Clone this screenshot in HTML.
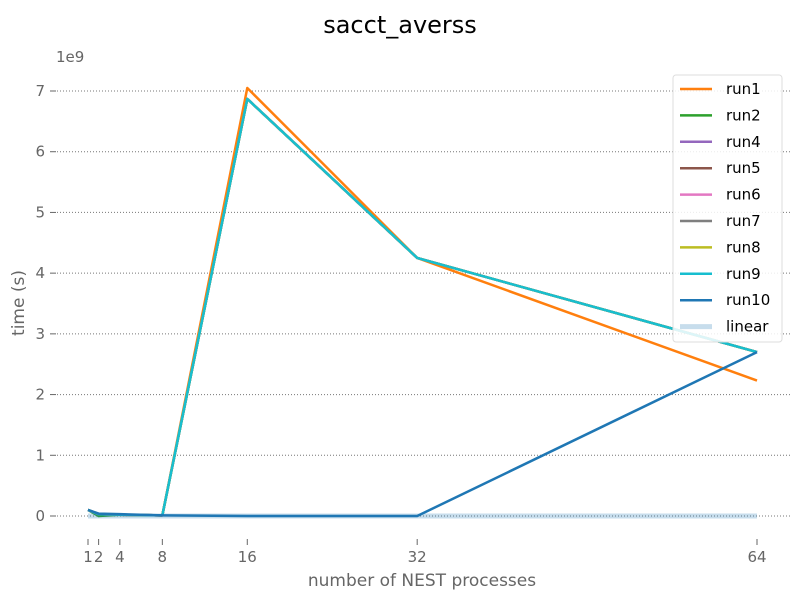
<!DOCTYPE html>
<html><head><meta charset="utf-8"><style>
body{margin:0;background:#fff}
svg text{font-family:"DejaVu Sans","Liberation Sans",sans-serif}
</style></head><body>
<svg id="chart" width="800" height="600">
<text x="400" y="33" text-anchor="middle" font-size="24" fill="#000">sacct_averss</text>
<text x="56" y="62" font-size="15" fill="#666">1e9</text>
<text x="24" y="303" font-size="17" fill="#666" text-anchor="middle" transform="rotate(-90 24 303)">time (s)</text>
<text x="422" y="586" font-size="17" fill="#666" text-anchor="middle">number of NEST processes</text>
<g id="grid"></g><g id="ticks"></g><g id="series"></g><g id="legend"></g>
</svg>
<script>
const xCats=[1,2,4,8,16,32,64];
const yTicks=[0,1,2,3,4,5,6,7];
const seriesNames=["run1","run2","run4","run5","run6","run7","run8","run9","run10","linear"];
const colors=["#ff7f0e","#2ca02c","#9467bd","#8c564b","#e377c2","#7f7f7f","#bcbd22","#17becf","#1f77b4","#1f77b4"];
const run1=[0.1,0.02,0.02,0.01,7.05,4.25,2.23];
const run2=[0.1,0.0,0.02,0.01,6.87,4.25,2.7];
const run4=[0.1,0.03,0.02,0.01,6.87,4.25,2.7];
const run5=[0.1,0.03,0.02,0.01,6.87,4.25,2.7];
const run6=[0.1,0.03,0.02,0.01,6.87,4.25,2.7];
const run7=[0.1,0.03,0.02,0.01,6.87,4.25,2.7];
const run8=[0.1,0.03,0.02,0.01,6.87,4.25,2.7];
const run9=[0.1,0.03,0.02,0.01,6.87,4.25,2.7];
const run10=[0.1,0.04,0.03,0.01,0.0,0.0,2.7];
const linear=[0.0,0.0,0.0,0.0,0.0,0.0,0.0];
const allSeries=[run1,run2,run4,run5,run6,run7,run8,run9,run10,linear];
const NS="http://www.w3.org/2000/svg";
const xs=v=>88+(v-1)*(757-88)/63;
const ys=v=>516-v*(516-91)/7;
function mk(t,a,p){const e=document.createElementNS(NS,t);for(const k in a)e.setAttribute(k,a[k]);p.appendChild(e);return e;}
const grid=document.getElementById('grid'),ticks=document.getElementById('ticks');
yTicks.forEach(v=>{
 const l=mk('line',{x1:57,x2:790,y1:ys(v),y2:ys(v),stroke:'#777','stroke-dasharray':'1,2','stroke-width':1},grid);
 
 
 const m=mk('line',{x1:50,x2:56,y1:ys(v),y2:ys(v),stroke:'#666'},ticks);
 
 
 const t=mk('text',{x:45,y:ys(v)+5,'font-size':15,fill:'#666','text-anchor':'end'},ticks);t.textContent=v;
 
 
});
xCats.forEach(v=>{
 const t=mk('text',{x:xs(v),y:562,'font-size':15,fill:'#666','text-anchor':'middle'},ticks);t.textContent=v;
 
 
 const m=mk('line',{x1:xs(v),x2:xs(v),y1:539,y2:545,stroke:'#666'},ticks);
 
 
});
const sg=document.getElementById('series');
allSeries.forEach((s,i)=>{
 const pts=s.map((v,j)=>xs(xCats[j])+','+ys(v)).join(' ');
 const isLin=seriesNames[i]==='linear';
 const p=mk('polyline',{points:pts,fill:'none',stroke:colors[i],'stroke-width':isLin?5:2.5,'stroke-opacity':isLin?0.25:1,'stroke-linejoin':'round'},sg);
 
 
});
const lg=document.getElementById('legend');
const box=mk('rect',{x:673,y:75,width:109,height:267,rx:3,fill:'#fff','fill-opacity':0.85,stroke:'#ddd'},lg);


seriesNames.forEach((n,i)=>{
 const y=89+i*26.4;const isLin=n==='linear';
 const g=mk('g',{},lg);
 
 
 mk('line',{x1:680,x2:712,y1:y,y2:y,stroke:colors[i],'stroke-width':isLin?5:2.5,'stroke-opacity':isLin?0.25:1},g);
 const t=mk('text',{x:726,y:y+5,'font-size':15,fill:'#000'},g);t.textContent=n;
});
</script>
</body></html>
